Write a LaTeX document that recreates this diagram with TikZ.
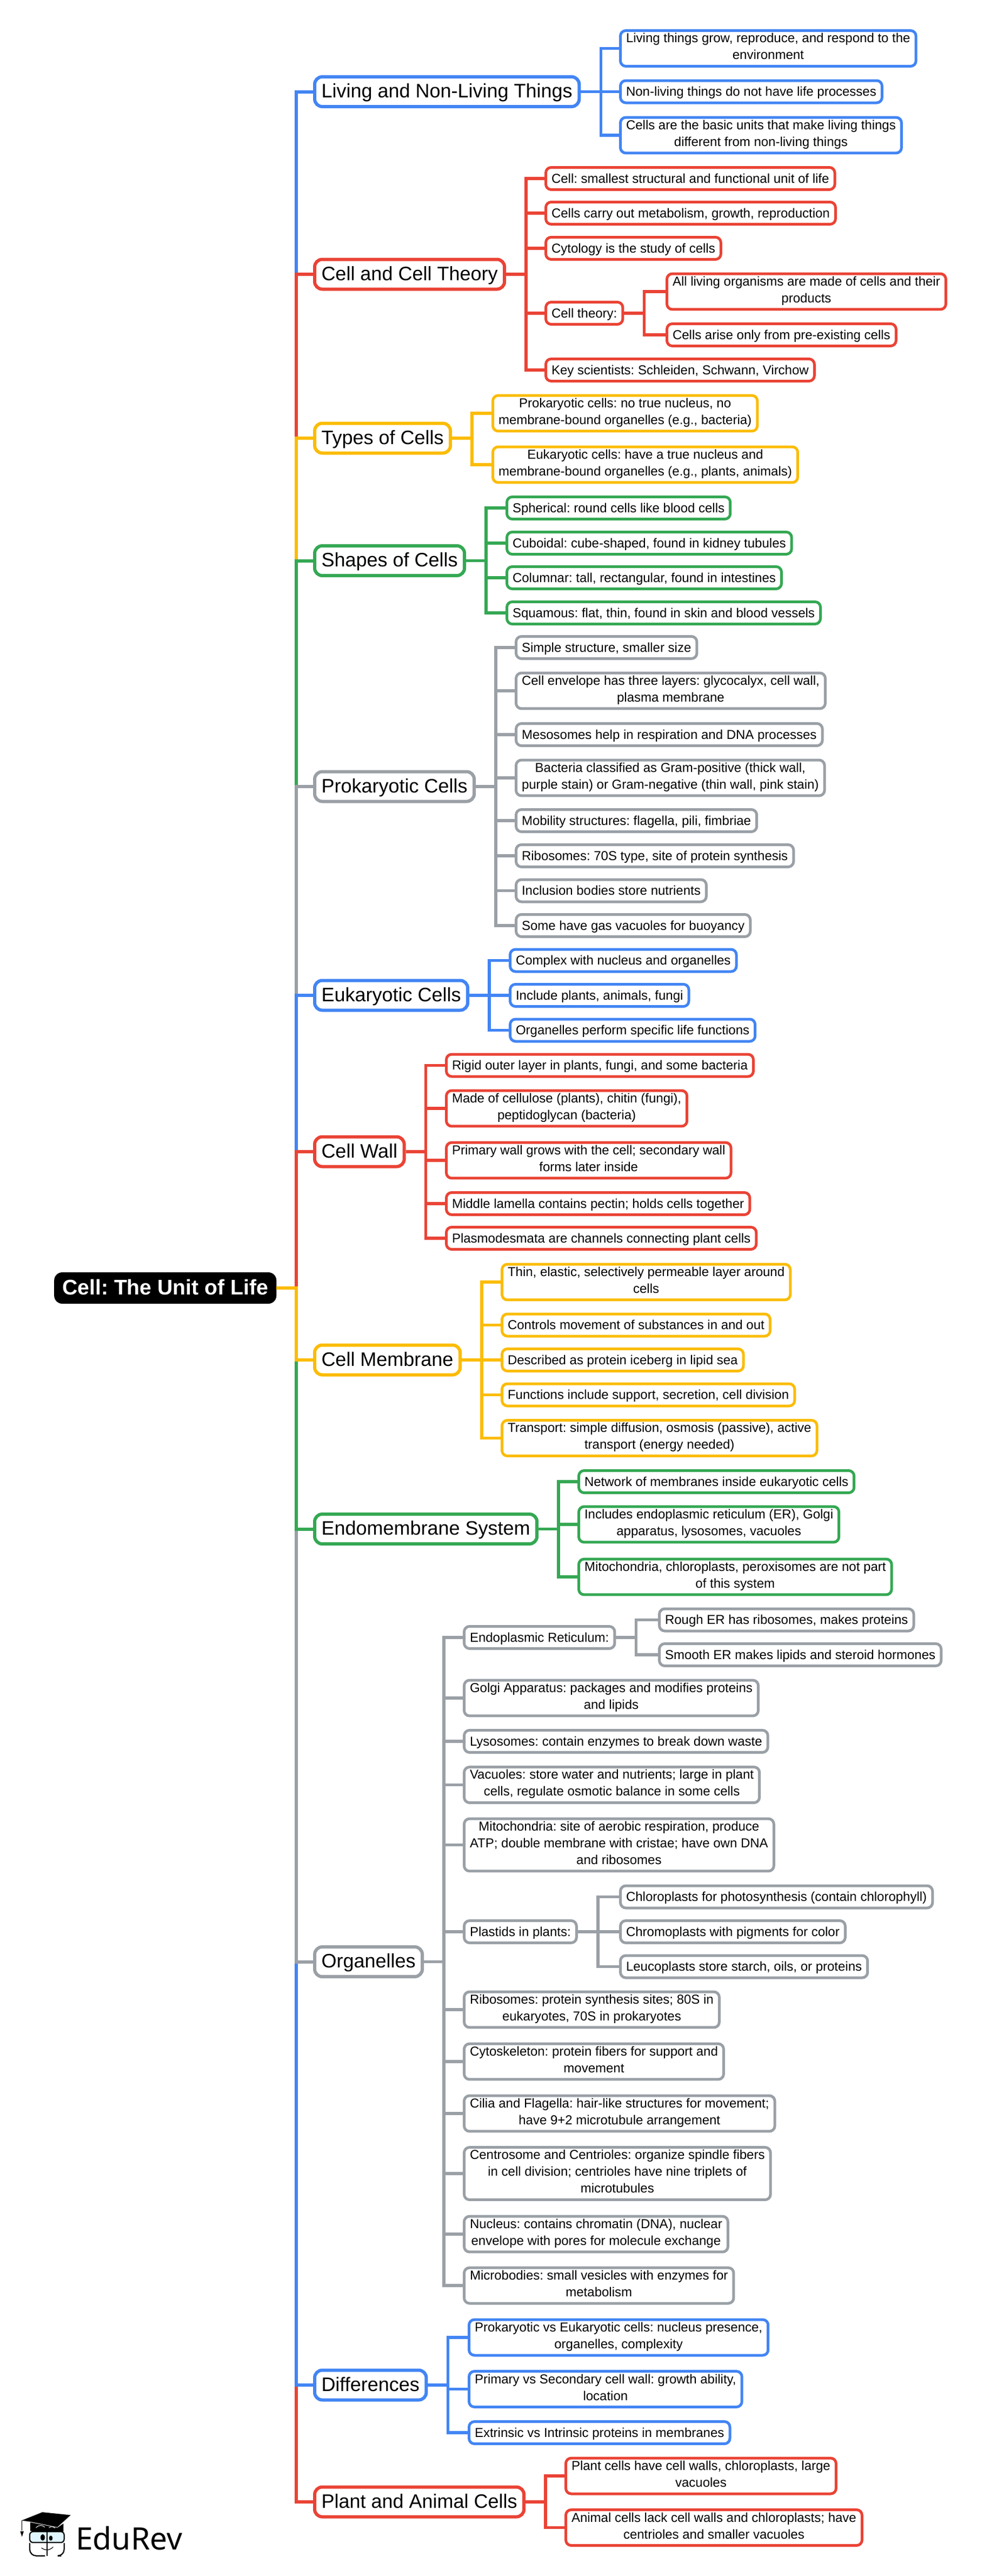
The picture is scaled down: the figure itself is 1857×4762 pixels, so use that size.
\documentclass[tikz,border=0pt]{standalone}
\usepackage{fontspec}
\setmainfont{Liberation Sans}
\newfontfamily\logofont{Noto Sans}
\definecolor{cblue}{HTML}{4285F4}
\definecolor{cred}{HTML}{EA4335}
\definecolor{cyel}{HTML}{FBBC04}
\definecolor{cgrn}{HTML}{34A853}
\definecolor{cgry}{HTML}{9AA0A6}
\newcommand\lfstrut{\rule[-7.5pt]{0pt}{31pt}}
\newcommand\mnstrut{\rule[-11.3pt]{0pt}{45pt}}
\newcommand\rtstrut{\rule[-10.7pt]{0pt}{46pt}}
\tikzset{
  leafbox/.style={draw=#1,line width=5pt,rounded corners=10pt,fill=white,anchor=west,
    inner xsep=10.5pt,inner ysep=5pt,align=center,font=\fontsize{24}{31}\selectfont\frenchspacing,
    execute at begin node=\lfstrut,execute at end node=\lfstrut},
  mainbox/.style={draw=#1,line width=6pt,rounded corners=14pt,fill=white,anchor=west,
    inner xsep=12.5pt,inner ysep=5pt,font=\fontsize{36}{45}\selectfont\frenchspacing,
    execute at begin node=\mnstrut,execute at end node=\mnstrut},
  rootbox/.style={fill=black,text=white,rounded corners=15pt,anchor=west,
    inner xsep=15pt,inner ysep=6pt,font=\fontsize{39.2}{46}\selectfont\bfseries\frenchspacing,
    execute at begin node=\rtstrut,execute at end node=\rtstrut},
  lk/.style={draw=#1,line width=5.5pt},
  trunk/.style={draw=#1,line width=6pt},
}
\newcommand\trk[2]{\draw[trunk=#1] (root.east) -- ++(37,0) |- (#2.west);}
\newcommand\lnk[3]{\draw[lk=#1] (#2.east) -- ++(37,0) |- (#3.west);}
\begin{document}
\begin{tikzpicture}[x=1pt,y=-1pt]
\useasboundingbox (0,0) rectangle (1857,4762);
% root
\node[rootbox] (root) at (100,2381) {Cell: The Unit of Life};
% main branches
\node[mainbox=cblue] (m1) at (579,169.5) {Living and Non-Living Things};
\node[mainbox=cred] (m2) at (579,507) {Cell and Cell Theory};
\node[mainbox=cyel] (m3) at (579,810) {Types of Cells};
\node[mainbox=cgrn] (m4) at (579,1036.5) {Shapes of Cells};
\node[mainbox=cgry] (m5) at (579,1454) {Prokaryotic Cells};
\node[mainbox=cblue] (m6) at (579,1840) {Eukaryotic Cells};
\node[mainbox=cred] (m7) at (579,2129) {Cell Wall};
\node[mainbox=cyel] (m8) at (579,2514) {Cell Membrane};
\node[mainbox=cgrn] (m9) at (579,2826.5) {Endomembrane System};
\node[mainbox=cgry] (m10) at (579,3626.5) {Organelles};
\node[mainbox=cblue] (m11) at (579,4409) {Differences};
\node[mainbox=cred] (m12) at (579,4625) {Plant and Animal Cells};
% 1
\node[leafbox=cblue] (a1) at (1145,89.5) {Living things grow, reproduce, and respond to the\\environment};
\node[leafbox=cblue] (a2) at (1145,169.5) {Non-living things do not have life processes};
\node[leafbox=cblue] (a3) at (1145,250) {Cells are the basic units that make living things\\different from non-living things};
% 2
\node[leafbox=cred] (b1) at (1007,330) {Cell: smallest structural and functional unit of life};
\node[leafbox=cred] (b2) at (1007,394) {Cells carry out metabolism, growth, reproduction};
\node[leafbox=cred] (b3) at (1007,459) {Cytology is the study of cells};
\node[leafbox=cred] (b4) at (1007,579) {Cell theory:};
\node[leafbox=cred] (b41) at (1231,539) {All living organisms are made of cells and their\\products};
\node[leafbox=cred] (b42) at (1231,619) {Cells arise only from pre-existing cells};
\node[leafbox=cred] (b5) at (1007,684) {Key scientists: Schleiden, Schwann, Virchow};
% 3
\node[leafbox=cyel] (c1) at (909,764) {Prokaryotic cells: no true nucleus, no\\membrane-bound organelles (e.g., bacteria)};
\node[leafbox=cyel] (c2) at (909,859) {Eukaryotic cells: have a true nucleus and\\membrane-bound organelles (e.g., plants, animals)};
% 4
\node[leafbox=cgrn] (d1) at (935,939) {Spherical: round cells like blood cells};
\node[leafbox=cgrn] (d2) at (935,1004) {Cuboidal: cube-shaped, found in kidney tubules};
\node[leafbox=cgrn] (d3) at (935,1068) {Columnar: tall, rectangular, found in intestines};
\node[leafbox=cgrn] (d4) at (935,1133) {Squamous: flat, thin, found in skin and blood vessels};
% 5
\node[leafbox=cgry] (e1) at (952,1197) {Simple structure, smaller size};
\node[leafbox=cgry] (e2) at (952,1277) {Cell envelope has three layers: glycocalyx, cell wall,\\plasma membrane};
\node[leafbox=cgry] (e3) at (952,1358) {Mesosomes help in respiration and DNA processes};
\node[leafbox=cgry] (e4) at (952,1438) {Bacteria classified as Gram-positive (thick wall,\\purple stain) or Gram-negative (thin wall, pink stain)};
\node[leafbox=cgry] (e5) at (952,1517) {Mobility structures: flagella, pili, fimbriae};
\node[leafbox=cgry] (e6) at (952,1582) {Ribosomes: 70S type, site of protein synthesis};
\node[leafbox=cgry] (e7) at (952,1646.5) {Inclusion bodies store nutrients};
\node[leafbox=cgry] (e8) at (952,1711) {Some have gas vacuoles for buoyancy};
% 6
\node[leafbox=cblue] (f1) at (941,1775.5) {Complex with nucleus and organelles};
\node[leafbox=cblue] (f2) at (941,1840) {Include plants, animals, fungi};
\node[leafbox=cblue] (f3) at (941,1904.5) {Organelles perform specific life functions};
% 7
\node[leafbox=cred] (g1) at (823,1969.5) {Rigid outer layer in plants, fungi, and some bacteria};
\node[leafbox=cred] (g2) at (823,2049) {Made of cellulose (plants), chitin (fungi),\\peptidoglycan (bacteria)};
\node[leafbox=cred] (g3) at (823,2145) {Primary wall grows with the cell; secondary wall\\forms later inside};
\node[leafbox=cred] (g4) at (823,2225) {Middle lamella contains pectin; holds cells together};
\node[leafbox=cred] (g5) at (823,2289) {Plasmodesmata are channels connecting plant cells};
% 8
\node[leafbox=cyel] (h1) at (926,2370) {Thin, elastic, selectively permeable layer around\\cells};
\node[leafbox=cyel] (h2) at (926,2449.5) {Controls movement of substances in and out};
\node[leafbox=cyel] (h3) at (926,2514) {Described as protein iceberg in lipid sea};
\node[leafbox=cyel] (h4) at (926,2578.5) {Functions include support, secretion, cell division};
\node[leafbox=cyel] (h5) at (926,2658.5) {Transport: simple diffusion, osmosis (passive), active\\transport (energy needed)};
% 9
\node[leafbox=cgrn] (i1) at (1068,2739) {Network of membranes inside eukaryotic cells};
\node[leafbox=cgrn] (i2) at (1068,2818) {Includes endoplasmic reticulum (ER), Golgi\\apparatus, lysosomes, vacuoles};
\node[leafbox=cgrn] (i3) at (1068,2915) {Mitochondria, chloroplasts, peroxisomes are not part\\of this system};
% 10
\node[leafbox=cgry] (j1) at (856,3027) {Endoplasmic Reticulum:};
\node[leafbox=cgry] (j11) at (1217,2994.5) {Rough ER has ribosomes, makes proteins};
\node[leafbox=cgry] (j12) at (1217,3059) {Smooth ER makes lipids and steroid hormones};
\node[leafbox=cgry] (j2) at (856,3139) {Golgi Apparatus: packages and modifies proteins\\and lipids};
\node[leafbox=cgry] (j3) at (856,3219) {Lysosomes: contain enzymes to break down waste};
\node[leafbox=cgry] (j4) at (856,3299.5) {Vacuoles: store water and nutrients; large in plant\\cells, regulate osmotic balance in some cells};
\node[leafbox=cgry] (j5) at (856,3410.5) {Mitochondria: site of aerobic respiration, produce\\ATP; double membrane with cristae; have own DNA\\and ribosomes};
\node[leafbox=cgry] (j6) at (856,3571) {Plastids in plants:};
\node[leafbox=cgry] (j61) at (1145,3506.5) {Chloroplasts for photosynthesis (contain chlorophyll)};
\node[leafbox=cgry] (j62) at (1145,3571) {Chromoplasts with pigments for color};
\node[leafbox=cgry] (j63) at (1145,3635.5) {Leucoplasts store starch, oils, or proteins};
\node[leafbox=cgry] (j7) at (856,3715) {Ribosomes: protein synthesis sites; 80S in\\eukaryotes, 70S in prokaryotes};
\node[leafbox=cgry] (j8) at (856,3811) {Cytoskeleton: protein fibers for support and\\movement};
\node[leafbox=cgry] (j9) at (856,3907) {Cilia and Flagella: hair-like structures for movement;\\have 9+2 microtubule arrangement};
\node[leafbox=cgry] (j10) at (856,4018) {Centrosome and Centrioles: organize spindle fibers\\in cell division; centrioles have nine triplets of\\microtubules};
\node[leafbox=cgry] (j13) at (856,4130) {Nucleus: contains chromatin (DNA), nuclear\\envelope with pores for molecule exchange};
\node[leafbox=cgry] (j14) at (856,4225) {Microbodies: small vesicles with enzymes for\\metabolism};
% 11
\node[leafbox=cblue] (k1) at (865,4321) {Prokaryotic vs Eukaryotic cells: nucleus presence,\\organelles, complexity};
\node[leafbox=cblue] (k2) at (865,4416.5) {Primary vs Secondary cell wall: growth ability,\\location};
\node[leafbox=cblue] (k3) at (865,4497) {Extrinsic vs Intrinsic proteins in membranes};
% 12
\node[leafbox=cred] (l1) at (1044,4577) {Plant cells have cell walls, chloroplasts, large\\vacuoles};
\node[leafbox=cred] (l2) at (1044,4672.5) {Animal cells lack cell walls and chloroplasts; have\\centrioles and smaller vacuoles};
% trunk: upper branches, top to bottom; lower branches, bottom to top
\trk{cblue}{m1}\trk{cred}{m2}\trk{cyel}{m3}\trk{cgrn}{m4}\trk{cgry}{m5}\trk{cblue}{m6}\trk{cred}{m7}
\trk{cred}{m12}\trk{cblue}{m11}\trk{cgry}{m10}\trk{cgrn}{m9}\trk{cyel}{m8}
% leaves
\foreach \t in {a1,a2,a3}{\lnk{cblue}{m1}{\t}}
\foreach \t in {b1,b2,b3,b4,b5}{\lnk{cred}{m2}{\t}}
\foreach \t in {b41,b42}{\lnk{cred}{b4}{\t}}
\foreach \t in {c1,c2}{\lnk{cyel}{m3}{\t}}
\foreach \t in {d1,d2,d3,d4}{\lnk{cgrn}{m4}{\t}}
\foreach \t in {e1,e2,e3,e4,e5,e6,e7,e8}{\lnk{cgry}{m5}{\t}}
\foreach \t in {f1,f2,f3}{\lnk{cblue}{m6}{\t}}
\foreach \t in {g1,g2,g3,g4,g5}{\lnk{cred}{m7}{\t}}
\foreach \t in {h1,h2,h3,h4,h5}{\lnk{cyel}{m8}{\t}}
\foreach \t in {i1,i2,i3}{\lnk{cgrn}{m9}{\t}}
\foreach \t in {j1,j2,j3,j4,j5,j6,j7,j8,j9,j10,j13,j14}{\lnk{cgry}{m10}{\t}}
\foreach \t in {j11,j12}{\lnk{cgry}{j1}{\t}}
\foreach \t in {j61,j62,j63}{\lnk{cgry}{j6}{\t}}
\foreach \t in {k1,k2,k3}{\lnk{cblue}{m11}{\t}}
\foreach \t in {l1,l2}{\lnk{cred}{m12}{\t}}
% logo (crop coordinates: px/3 plus offset)
\begin{scope}[shift={(20,4620)},x=0.3333pt,y=-0.3333pt]
  \fill[black] (108,128) -- (258,158) -- (292,135) -- (292,180) -- (108,176) -- cycle;
  \fill[black] (60,118) -- (175,72) -- (332,88) -- (258,155) -- (110,125) -- cycle;
  \draw[black,line width=1.2pt] (62,118) -- (62,175);
  \fill[black] (52,178) -- (72,178) -- (62,208) -- cycle;
  \draw[white,line width=1pt] (140,158) .. controls (155,142) and (175,142) .. (188,155);
  \draw[white,line width=1pt] (212,158) .. controls (222,150) and (235,150) .. (245,160);
  \draw[black,line width=2.2pt,fill=cyan!12!white,rounded corners=6pt] (105,180) rectangle (296,240);
  \draw[black,line width=2.2pt,rounded corners=12pt] (190,314) -- (105,314) -- (105,243);
  \draw[black,line width=2.2pt,rounded corners=12pt] (280,314) -- (296,314) -- (296,243);
  \draw[black,line width=2.2pt] (200,170) -- (200,316);
  \fill[black] (177,212) ellipse [x radius=12,y radius=18];
  \fill[black] (222,216) ellipse [x radius=10,y radius=14];
  \draw[black,line width=1.2pt] (170,270) .. controls (190,285) and (215,285) .. (235,265);
\end{scope}
\node[font=\fontsize{57}{68}\logofont\bfseries,anchor=base west,inner sep=0pt] (logo) at (140,4713) {EduRev};
\end{tikzpicture}
\end{document}
